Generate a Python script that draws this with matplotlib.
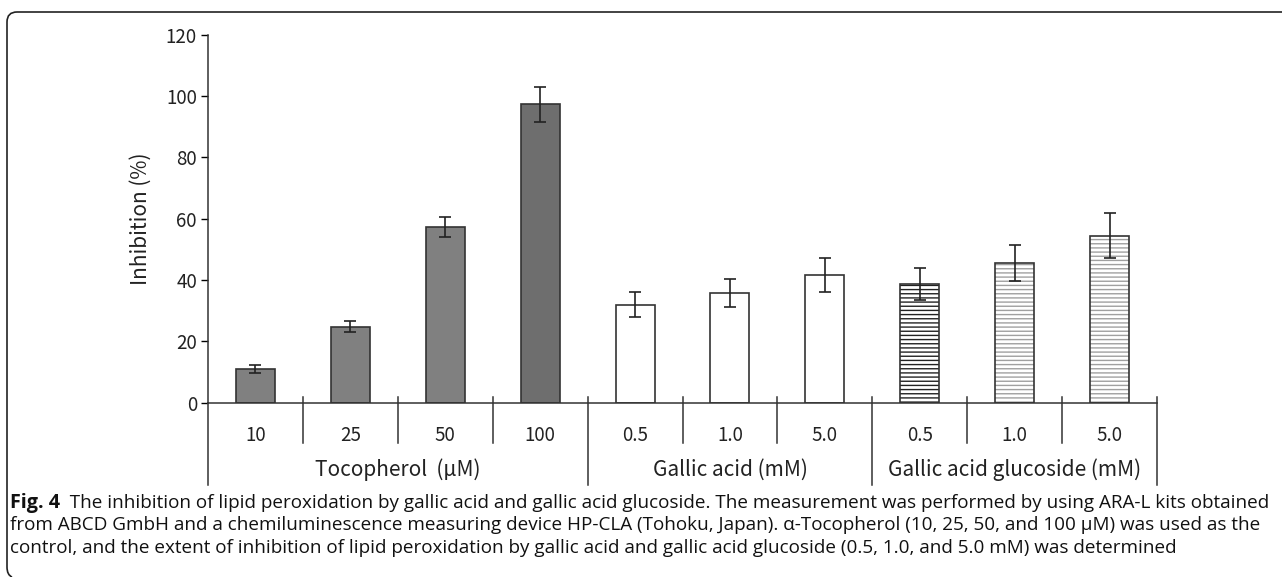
import matplotlib
matplotlib.use("Agg")
import matplotlib.pyplot as plt
from matplotlib.path import Path
from matplotlib.patches import PathPatch

# data
tick_labels = ["10", "25", "50", "100", "0.5", "1.0", "5.0", "0.5", "1.0", "5.0"]
inhibition = [11.0, 24.8, 57.2, 97.3, 32.0, 35.9, 41.6, 38.6, 45.5, 54.5]
errors = [1.2, 1.8, 3.3, 5.7, 4.2, 4.6, 5.5, 5.2, 5.9, 7.2]
groups = ["Tocopherol  (\u03bcM)", "Gallic acid (mM)", "Gallic acid glucoside (mM)"]
group_sizes = [4, 3, 3]

caption_bold = "Fig. 4"
caption_lines = [
    "  The inhibition of lipid peroxidation by gallic acid and gallic acid glucoside. The measurement was performed by using ARA-L kits obtained",
    "from ABCD GmbH and a chemiluminescence measuring device HP-CLA (Tohoku, Japan). \u03b1-Tocopherol (10, 25, 50, and 100 \u03bcM) was used as the",
    "control, and the extent of inhibition of lipid peroxidation by gallic acid and gallic acid glucoside (0.5, 1.0, and 5.0 mM) was determined",
]

plt.rcParams['font.family'] = ['Noto Sans CJK KR', 'DejaVu Sans']
plt.rcParams['hatch.linewidth'] = 1.0

W, H = 1282, 577
fig = plt.figure(figsize=(W / 100, H / 100), dpi=100)

# axes placement in pixels
left_px, right_px, top_px, bottom_px = 208, 1157, 34.7, 402.7
ax = fig.add_axes([left_px / W, 1 - bottom_px / H,
                   (right_px - left_px) / W, (bottom_px - top_px) / H])

x = list(range(len(inhibition)))
face = ["#808080", "#808080", "#808080", "#6e6e6e",
        "white", "white", "white", "white", "white", "white"]
hatches = [None] * 7 + ["----", "----", "----"]
hatch_cols = [None] * 7 + ["#222222", "#a0a0a0", "#a0a0a0"]
width = 0.41

for i in x:
    if hatches[i]:
        ax.bar(i, inhibition[i], width, color="white", edgecolor=hatch_cols[i],
               hatch=hatches[i], linewidth=0)
        ax.bar(i, inhibition[i], width, fill=False, edgecolor="#333333", linewidth=1.2)
    else:
        ax.bar(i, inhibition[i], width, color=face[i], edgecolor="#333333", linewidth=1.2)

ax.errorbar(x, inhibition, yerr=errors, fmt="none", ecolor="#222222",
            elinewidth=1.2, capsize=4, capthick=1.2)

ax.set_xlim(-0.5, len(x) - 0.5)
ax.set_ylim(0, 120)
ax.set_yticks(range(0, 121, 20))
ax.set_xticks([])
ax.tick_params(axis="y", direction="out", length=5, width=1, labelsize=13.5,
               pad=3, labelcolor="#222222")
for s in ["top", "right"]:
    ax.spines[s].set_visible(False)
for s in ["left", "bottom"]:
    ax.spines[s].set_linewidth(1.1)
    ax.spines[s].set_color("#333333")
ax.set_ylabel("Inhibition (%)", fontsize=15, labelpad=10, color="#222222")

tr = ax.get_xaxis_transform()
axh = bottom_px - top_px
up = 6 / axh
short_dn = -40 / axh
long_dn = -82 / axh

# category labels and separators
group_edges = [-0.5]
for g in group_sizes:
    group_edges.append(group_edges[-1] + g)
for i, lab in enumerate(tick_labels):
    ax.text(i, -33 / axh, lab, transform=tr, ha="center", va="center",
            fontsize=13.5, color="#222222")
for k in range(len(x) + 1):
    e = k - 0.5
    if e in group_edges:
        ax.plot([e, e], [up if k > 0 else 0, long_dn], transform=tr, color="#333333",
                lw=1.1, clip_on=False)
    else:
        ax.plot([e, e], [up, short_dn], transform=tr, color="#333333",
                lw=1.1, clip_on=False)
for gi, name in enumerate(groups):
    c = (group_edges[gi] + group_edges[gi + 1]) / 2
    ax.text(c, -67 / axh, name, transform=tr, ha="center", va="center",
            fontsize=15, color="#222222")

# caption, sized so the first line spans the figure like the original
cap_font = ['Open Sans', 'DejaVu Sans']
y0 = H - 503


def draw_caption(size):
    items = []
    t = fig.text(10 / W, y0 / H, caption_bold, fontsize=size * 1.05, fontweight="bold",
                 family=cap_font, va="center", ha="left", color="#111111")
    items.append(t)
    fig.canvas.draw()
    bb = t.get_window_extent()
    first = fig.text(bb.x1 / W, y0 / H, caption_lines[0], fontsize=size,
                     family=cap_font, va="center", ha="left", color="#111111")
    items.append(first)
    for j, line in enumerate(caption_lines[1:]):
        items.append(fig.text(10 / W, (y0 - 22.5 * (j + 1)) / H, line, fontsize=size,
                              family=cap_font, va="center", ha="left", color="#111111"))
    fig.canvas.draw()
    return items, first.get_window_extent().x1


size = 10.2
items, right_edge = draw_caption(size)
for it in items:
    it.remove()
size = size * (1265 - 10) / (right_edge - 10)
draw_caption(size)

# rounded frame (top and left edges)
r = 10
verts = [(W, H - 12), (7 + r, H - 12), (7, H - 12), (7, H - 12 - r),
         (7, 10), (7, 2), (12, 0)]
codes = [Path.MOVETO, Path.LINETO, Path.CURVE3, Path.CURVE3,
         Path.LINETO, Path.CURVE3, Path.CURVE3]
fig.patches.append(PathPatch(Path(verts, codes), fill=False, edgecolor="#222222",
                             lw=1.2, transform=None))

fig.savefig("out.png", dpi=100)
